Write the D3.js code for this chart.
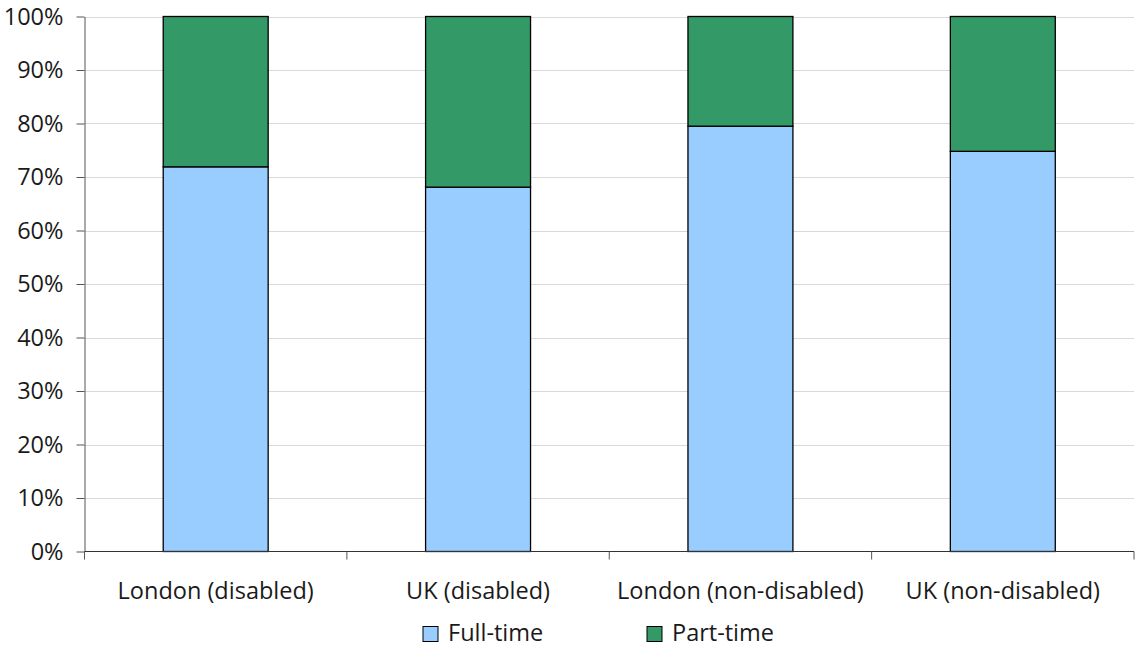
<!DOCTYPE html>
<html>
<head>
<meta charset="utf-8">
<script src="https://cdn.jsdelivr.net/npm/d3@7"></script>
<style>
  html, body { margin: 0; padding: 0; background: #fff; }
  svg text { font-family: "Open Sans", "Noto Sans", sans-serif; fill: #1a1a1a; }
</style>
</head>
<body>
<svg id="chart" width="1136" height="648"></svg>
<script>
// Employment type shares by group (percent of those in work)
const categories = ["London (disabled)", "UK (disabled)", "London (non-disabled)", "UK (non-disabled)"];
const fullTime = [71.9, 68.1, 79.5, 74.8];
const partTime = [28.1, 31.9, 20.5, 25.2];
const seriesNames = ["Full-time", "Part-time"];
const seriesColors = ["#99ccff", "#339966"];
const yTicks = [0, 10, 20, 30, 40, 50, 60, 70, 80, 90, 100];

const svg = d3.select("#chart");
const margin = { left: 84.5, right: 2, top: 16.5, bottom: 96.5 };
const W = 1136, H = 648;
const x0 = margin.left, x1 = W - margin.right;
const yTop = margin.top, yBot = H - margin.bottom;
const fontSize = 23.5;

const x = d3.scaleBand().domain(categories).range([x0, x1]).paddingInner(0).paddingOuter(0);
const y = d3.scaleLinear().domain([0, 100]).range([yBot, yTop]);

// gridlines
svg.append("g").selectAll("line").data(yTicks.filter(d => d > 0)).join("line")
  .attr("x1", x0).attr("x2", x1)
  .attr("y1", d => Math.round(y(d)) + 0.5).attr("y2", d => Math.round(y(d)) + 0.5)
  .attr("stroke", "#d9d9d9").attr("stroke-width", 1);

// stacked bars
const rows = categories.map((c, i) => ({ cat: c, "Full-time": fullTime[i], "Part-time": partTime[i] }));
const stack = d3.stack().keys(seriesNames)(rows);
const barW = x.bandwidth() * 0.4;
svg.append("g").selectAll("g").data(stack).join("g")
  .attr("fill", (d, i) => seriesColors[i])
  .selectAll("rect").data(d => d).join("rect")
  .attr("x", d => x(d.data.cat) + (x.bandwidth() - barW) / 2)
  .attr("width", barW)
  .attr("y", d => y(d[1]))
  .attr("height", d => y(d[0]) - y(d[1]))
  .attr("stroke", "#000").attr("stroke-width", 1.3);

// y axis
const yAxis = d3.axisLeft(y).tickValues(yTicks).tickFormat(d => d + "%").tickSize(8).tickSizeOuter(0);
const gy = svg.append("g").attr("transform", `translate(${x0},0)`).call(yAxis);
gy.select(".domain").attr("stroke", "#555");
gy.selectAll(".tick line").attr("stroke", "#555");
gy.selectAll(".tick text").attr("x", -21).attr("font-size", fontSize).attr("fill", "#1a1a1a")
  .attr("font-family", "Open Sans, Noto Sans, sans-serif");

// x axis with tick marks at category boundaries
const gx = svg.append("g").attr("transform", `translate(0,${yBot})`);
gx.append("line").attr("x1", x0).attr("x2", x1).attr("y1", 0).attr("y2", 0).attr("stroke", "#333");
const bounds = categories.map(c => x(c)).concat([x1]);
gx.selectAll("line.tk").data(bounds).join("line").attr("class", "tk")
  .attr("x1", d => d).attr("x2", d => d).attr("y1", 0).attr("y2", 8).attr("stroke", "#555");
gx.selectAll("text").data(categories).join("text")
  .attr("x", d => x(d) + x.bandwidth() / 2).attr("y", 47.5)
  .attr("text-anchor", "middle").attr("font-size", fontSize).text(d => d);

// legend
const legendX = [423, 647];
const lg = svg.append("g").selectAll("g").data(seriesNames).join("g")
  .attr("transform", (d, i) => `translate(${legendX[i]},626.5)`);
lg.append("rect").attr("width", 15).attr("height", 15)
  .attr("fill", (d, i) => seriesColors[i]).attr("stroke", "#000").attr("stroke-width", 1);
lg.append("text").attr("x", 25).attr("y", 14.5).attr("font-size", fontSize).text(d => d);
</script>
</body>
</html>
